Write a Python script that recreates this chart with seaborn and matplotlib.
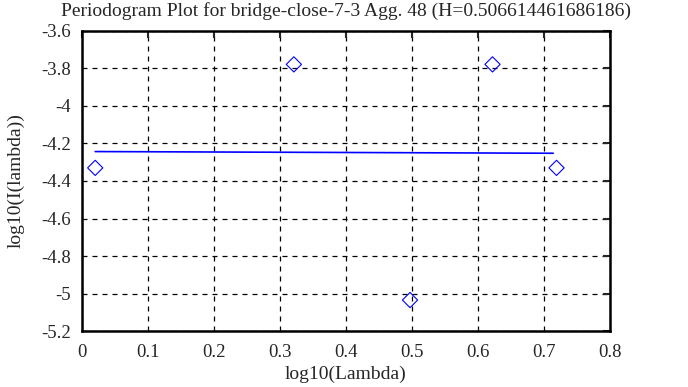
import numpy as np
import pandas as pd
import matplotlib
matplotlib.use('Agg')
import matplotlib.pyplot as plt
import seaborn as sns

# periodogram points
log_lambda = [0.020, 0.321, 0.497, 0.622, 0.719]
log_i = [-4.330, -3.778, -5.035, -3.778, -4.330]

# least-squares fit line (H=0.5066 -> slope 1-2H)
fit_x = [0.020, 0.714]
fit_y = [-4.243, -4.252]

x_ticks = [0, 0.1, 0.2, 0.3, 0.4, 0.5, 0.6, 0.7, 0.8]
y_ticks = [-5.2, -5, -4.8, -4.6, -4.4, -4.2, -4, -3.8, -3.6]

sns.set_style('white')
plt.rcParams['font.family'] = ['Liberation Serif', 'DejaVu Serif']

df = pd.DataFrame({'x': log_lambda, 'y': log_i})
fit = pd.DataFrame({'x': fit_x, 'y': fit_y})

fig = plt.figure(figsize=(6.88, 3.87), dpi=100)
ax = fig.add_axes([0.1192, 0.1447, 0.7674, 0.7752])

sns.lineplot(data=fit, x='x', y='y', color='#0000ff', linewidth=1.2, ax=ax)
sns.scatterplot(data=df, x='x', y='y', marker='D', s=60, facecolors='none',
                edgecolor='#0000ff', linewidth=0.8, ax=ax)

ax.set_xlim(0, 0.8)
ax.set_ylim(-5.2, -3.6)
ax.set_xticks(x_ticks)
ax.set_xticklabels(['0', '0.1', '0.2', '0.3', '0.4', '0.5', '0.6', '0.7', '0.8'])
ax.set_yticks(y_ticks)
ax.set_yticklabels(['-5.2', '-5', '-4.8', '-4.6', '-4.4', '-4.2', '-4', '-3.8', '-3.6'])
ax.grid(True, color='black', linestyle=(0, (4, 4)), linewidth=0.9)
ax.tick_params(direction='in', length=5, width=1.5, labelsize=13.5, top=True, right=True)
ax.tick_params(axis='x', pad=9)
ax.tick_params(axis='y', pad=8)
for sp in ax.spines.values():
    sp.set_color('black')
    sp.set_linewidth(1.8)

ax.set_xlabel('log10(Lambda)', fontsize=14, labelpad=4)
ax.set_ylabel('log10(I(lambda))', fontsize=14, labelpad=12)
ax.set_title('Periodogram Plot for bridge-close-7-3 Agg. 48 (H=0.506614461686186)',
             fontsize=14, pad=11)

fig.savefig('out.png', dpi=100)
